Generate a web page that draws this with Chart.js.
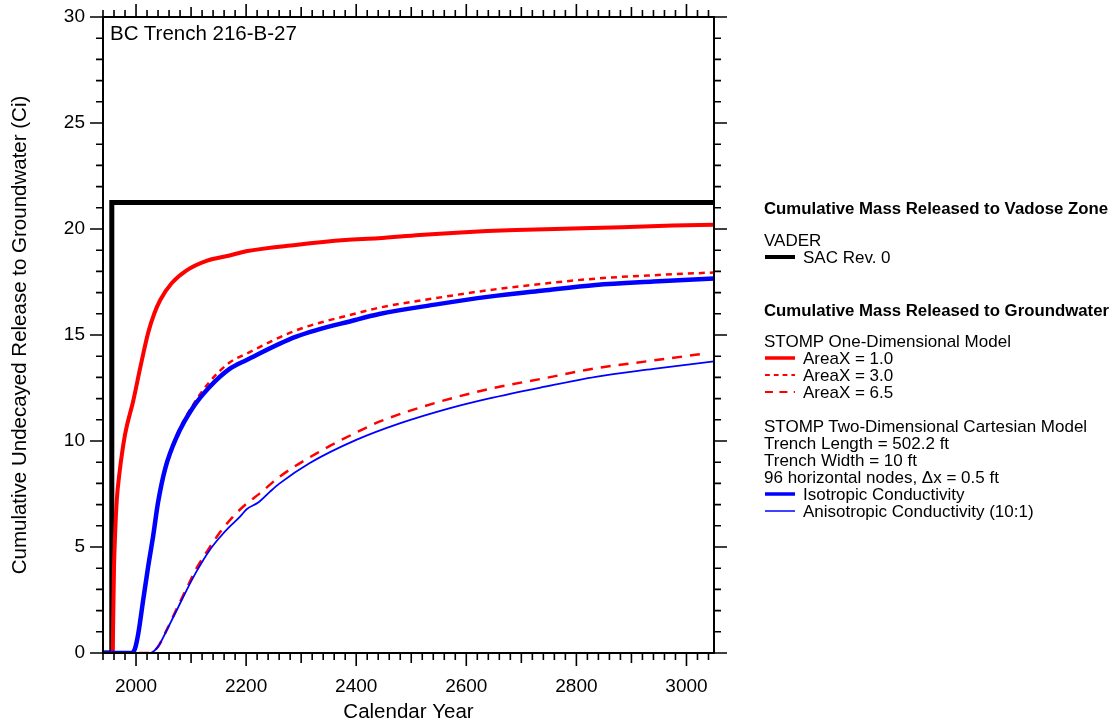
<!DOCTYPE html>
<html lang="en">
<head>
<meta charset="utf-8">
<title>BC Trench 216-B-27</title>
<script src="https://cdn.jsdelivr.net/npm/chart.js@4.4.1/dist/chart.umd.min.js"></script>
<style>
    html, body { margin: 0; padding: 0; background: #fff; }
    body {
        width: 1115px; height: 727px; position: relative; overflow: hidden;
        font-family: "Liberation Sans", Arial, sans-serif; color: #000;
    }
    #grafico { position: absolute; left: 0; top: 0; }
    #rotulo {
        position: absolute; left: 110px; top: 21px;
        font-size: 20.5px; line-height: 24px; white-space: nowrap;
    }
    #leyenda { position: absolute; left: 764px; top: 199.5px; font-size: 17px; white-space: nowrap; }
    #leyenda .fila { height: 17px; line-height: 17px; display: flex; align-items: center; }
    #leyenda .titulo { font-weight: bold; font-size: 16.8px; }
    #leyenda svg { margin-left: 1px; margin-right: 8px; flex: none; }
</style>
</head>
<body>
<canvas id="grafico" width="1115" height="727"></canvas>
<div id="rotulo">BC Trench 216-B-27</div>
<div id="leyenda"></div>

<script>
// ==============================================
// Datos (años / Ci)
// ==============================================

// Ejes
const X_MIN = 1940;
const X_MAX = 3050;
const Y_MIN = 0;
const Y_MAX = 30;
const etiquetasX = [2000, 2200, 2400, 2600, 2800, 3000];
const etiquetasY = [0, 5, 10, 15, 20, 25, 30];

// VADER - SAC Rev. 0
const aniosSac = [1940, 1956, 1956, 3050];
const valoresSac = [0, 0, 21.25, 21.25];

// STOMP 1D - AreaX = 1.0
const aniosArea1 = [1940, 1957.5, 1958.5, 1960, 1962, 1965, 1970, 1980, 1995, 2008, 2022, 2033, 2044, 2065, 2092, 2128, 2170, 2200, 2290, 2380, 2440, 2515, 2590, 2690, 2810, 2975, 3050];
const valoresArea1 = [0, 0, 1.5, 4.0, 5.6, 7.2, 8.5, 10.3, 11.9, 13.5, 15.1, 16.0, 16.65, 17.45, 18.05, 18.5, 18.75, 18.95, 19.25, 19.48, 19.56, 19.72, 19.84, 19.95, 20.03, 20.16, 20.2];

// STOMP 1D - AreaX = 3.0
const aniosArea3 = [1940, 1992, 1998, 2004, 2013, 2022, 2031, 2040, 2053, 2074, 2104, 2134, 2170, 2201, 2291, 2400, 2442, 2540, 2642, 2740, 2835, 2940, 3050];
const valoresArea3 = [0, 0, 0.2, 0.9, 2.5, 4.07, 5.5, 7.1, 8.72, 10.28, 11.72, 12.8, 13.7, 14.12, 15.22, 16.02, 16.29, 16.72, 17.12, 17.42, 17.66, 17.82, 17.95];

// STOMP 1D - AreaX = 6.5
const aniosArea65 = [1940, 2025, 2040, 2056, 2077, 2092, 2110, 2128, 2150, 2175, 2201, 2225, 2260, 2328, 2400, 2442, 2551, 2648, 2740, 2835, 2940, 3038];
const valoresArea65 = [0, 0, 0.3, 1.1, 2.25, 3.05, 4.0, 4.75, 5.6, 6.4, 7.05, 7.53, 8.3, 9.42, 10.4, 10.91, 11.85, 12.49, 12.95, 13.43, 13.8, 14.14];

// STOMP 2D - Isotropic Conductivity
const aniosIso = [1940, 1992, 1998, 2004, 2013, 2022, 2031, 2040, 2053, 2074, 2104, 2134, 2170, 2201, 2291, 2400, 2442, 2540, 2642, 2740, 2835, 2940, 3050];
const valoresIso = [0, 0, 0.2, 0.9, 2.5, 4.07, 5.5, 7.1, 8.7, 10.2, 11.6, 12.56, 13.4, 13.82, 14.92, 15.72, 15.99, 16.42, 16.81, 17.1, 17.36, 17.52, 17.66];

// STOMP 2D - Anisotropic Conductivity (10:1)
const aniosAniso = [1940, 2025, 2040, 2056, 2077, 2092, 2110, 2134, 2152, 2167, 2189, 2201, 2222, 2243, 2261, 2315, 2400, 2479, 2569, 2640, 2740, 2835, 2940, 3050];
const valoresAniso = [0, 0, 0.3, 1.08, 2.18, 2.97, 3.85, 4.86, 5.45, 5.88, 6.43, 6.78, 7.1, 7.6, 8.0, 8.95, 10.05, 10.83, 11.54, 12.0, 12.55, 13.03, 13.4, 13.76];

const FUENTE = '"Liberation Sans", Arial, sans-serif';

const Grafico = {
    chart: null,

    // Definición de series (orden: menor = encima)
    series: {
        sac:   { label: 'SAC Rev. 0', x: aniosSac, y: valoresSac, color: '#000000', ancho: 5, guion: [], orden: 6, suave: false, anchoLeyenda: 4 },
        area1: { label: 'AreaX = 1.0', x: aniosArea1, y: valoresArea1, color: '#ff0000', ancho: 4, guion: [], orden: 3, suave: true, anchoLeyenda: 3.5 },
        area3: { label: 'AreaX = 3.0', x: aniosArea3, y: valoresArea3, color: '#ff0000', ancho: 2.5, guion: [6, 5], orden: 4, suave: true, anchoLeyenda: 2 },
        area65: { label: 'AreaX = 6.5', x: aniosArea65, y: valoresArea65, color: '#ff0000', ancho: 2.5, guion: [10, 8], orden: 5, suave: true, anchoLeyenda: 2 },
        iso:   { label: 'Isotropic Conductivity', x: aniosIso, y: valoresIso, color: '#0000ff', ancho: 4.5, guion: [], orden: 1, suave: true, anchoLeyenda: 3.5 },
        aniso: { label: 'Anisotropic Conductivity (10:1)', x: aniosAniso, y: valoresAniso, color: '#0000ff', ancho: 1.8, guion: [], orden: 2, suave: true, anchoLeyenda: 1.5 }
    },

    // Estructura de la leyenda
    leyenda: [
        { titulo: 'Cumulative Mass Released to Vadose Zone', espacio: 0 },
        { texto: 'VADER', espacio: 15 },
        { serie: 'sac' },
        { titulo: 'Cumulative Mass Released to Groundwater', espacio: 36 },
        { texto: 'STOMP One-Dimensional Model', espacio: 14 },
        { serie: 'area1' },
        { serie: 'area3' },
        { serie: 'area65' },
        { texto: 'STOMP Two-Dimensional Cartesian Model', espacio: 17 },
        { texto: 'Trench Length = 502.2 ft' },
        { texto: 'Trench Width = 10 ft' },
        { texto: '96 horizontal nodes, \u0394x = 0.5 ft' },
        { serie: 'iso' },
        { serie: 'aniso' }
    ],

    init: function() {
        this.crearLeyenda();
        this.crearGrafico();
    },

    /**
     * Construye la leyenda HTML a partir de las series
     */
    crearLeyenda: function() {
        const cont = document.getElementById('leyenda');
        this.leyenda.forEach(item => {
            const fila = document.createElement('div');
            fila.className = 'fila';
            if (item.espacio) fila.style.marginTop = item.espacio + 'px';
            if (item.titulo) {
                fila.classList.add('titulo');
                fila.textContent = item.titulo;
            } else if (item.texto) {
                fila.textContent = item.texto;
            } else {
                const s = this.series[item.serie];
                const dash = s.guion.length ? ` stroke-dasharray="${s.guion.map(v => v * 0.8).join(',')}"` : '';
                fila.innerHTML = `<svg width="30" height="10"><line x1="0" y1="5" x2="30" y2="5" stroke="${s.color}" stroke-width="${s.anchoLeyenda}"${dash}/></svg><span>${s.label}</span>`;
            }
            cont.appendChild(fila);
        });
    },

    /**
     * Crea el gráfico de líneas
     */
    crearGrafico: function() {
        const datasets = Object.values(this.series).map(s => ({
            label: s.label,
            data: s.x.map((anio, i) => ({ x: anio, y: s.y[i] })),
            borderColor: s.color,
            borderWidth: s.ancho,
            borderDash: s.guion,
            order: s.orden,
            fill: false,
            pointRadius: 0,
            tension: 0,
            cubicInterpolationMode: s.suave ? 'monotone' : 'default'
        }));

        // Marco y marcas de los ejes en los cuatro lados
        const marcoEjes = {
            id: 'marcoEjes',
            afterDatasetsDraw(chart) {
                const { ctx, chartArea: a, scales: { x, y } } = chart;
                ctx.save();
                ctx.strokeStyle = '#000';
                ctx.lineWidth = 1.6;
                ctx.beginPath();
                for (let v = Math.ceil(X_MIN / 20) * 20; v <= X_MAX; v += 20) {
                    const px = x.getPixelForValue(v);
                    const largo = v % 200 === 0 ? 13 : (v % 100 === 0 ? 10 : 7);
                    ctx.moveTo(px, a.bottom); ctx.lineTo(px, a.bottom + largo);
                    ctx.moveTo(px, a.top); ctx.lineTo(px, a.top - largo);
                }
                for (let v = Y_MIN; v <= Y_MAX; v += 1) {
                    const py = y.getPixelForValue(v);
                    const largo = v % 5 === 0 ? 13 : 7;
                    ctx.moveTo(a.left, py); ctx.lineTo(a.left - largo, py);
                    ctx.moveTo(a.right, py); ctx.lineTo(a.right + largo, py);
                }
                ctx.stroke();
                ctx.lineWidth = 2;
                ctx.strokeRect(a.left, a.top, a.right - a.left, a.bottom - a.top);
                ctx.restore();
            }
        };

        // Quita el relleno automático que Chart.js reserva para las etiquetas extremas
        const sinRelleno = (s) => {
            s.paddingTop = 0; s.paddingBottom = 0;
            s.paddingLeft = 0; s.paddingRight = 0;
        };

        const ctx = document.getElementById('grafico').getContext('2d');
        this.chart = new Chart(ctx, {
            type: 'line',
            data: { datasets: datasets },
            options: {
                responsive: false,
                animation: false,
                devicePixelRatio: 1,
                layout: { padding: { left: 0, right: 401, top: 17, bottom: 0 } },
                plugins: {
                    legend: { display: false },
                    tooltip: { enabled: false }
                },
                scales: {
                    x: {
                        type: 'linear',
                        min: X_MIN,
                        max: X_MAX,
                        grid: { display: false, drawTicks: false, tickLength: 0 },
                        border: { display: false },
                        afterBuildTicks: (s) => { s.ticks = etiquetasX.map(v => ({ value: v })); },
                        afterFit: (s) => { s.height = 74; sinRelleno(s); },
                        ticks: {
                            color: '#000',
                            font: { family: FUENTE, size: 19 },
                            padding: 22,
                            maxRotation: 0,
                            autoSkip: false,
                            callback: (v) => String(v)
                        },
                        title: {
                            display: true,
                            text: 'Calendar Year',
                            color: '#000',
                            font: { family: FUENTE, size: 20.5 },
                            padding: { top: 0, bottom: 2 }
                        }
                    },
                    y: {
                        type: 'linear',
                        min: Y_MIN,
                        max: Y_MAX,
                        grid: { display: false, drawTicks: false, tickLength: 0 },
                        border: { display: false },
                        afterBuildTicks: (s) => { s.ticks = etiquetasY.map(v => ({ value: v })); },
                        afterFit: (s) => { s.width = 103; sinRelleno(s); },
                        ticks: {
                            color: '#000',
                            font: { family: FUENTE, size: 19 },
                            padding: 18,
                            autoSkip: false,
                            callback: (v) => String(v)
                        },
                        title: {
                            display: true,
                            text: 'Cumulative Undecayed Release to Groundwater (Ci)',
                            color: '#000',
                            font: { family: FUENTE, size: 20.5 },
                            padding: { top: 8, bottom: 0 }
                        }
                    }
                }
            },
            plugins: [marcoEjes]
        });
    }
};

document.addEventListener('DOMContentLoaded', function() {
    Grafico.init();
});
</script>
</body>
</html>
